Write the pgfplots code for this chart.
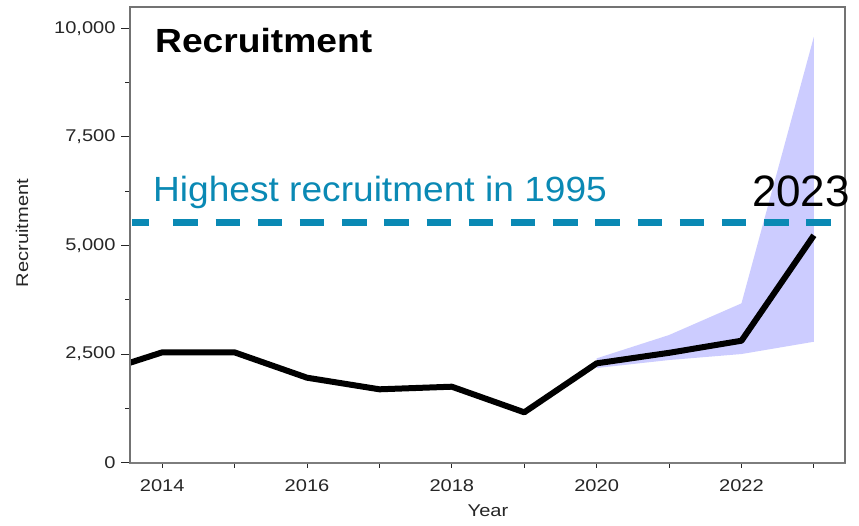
\documentclass[border=0pt]{standalone}
\usepackage{pgfplots}
\pgfplotsset{compat=1.18}
\usepackage{fontspec}
\setmainfont{Liberation Sans}
\newfontfamily\tickfont{Liberation Sans}[FakeStretch=1.18]
\newfontfamily\titlefont{Liberation Sans}[FakeStretch=1.11]
\newfontfamily\hlfont{Liberation Sans}[FakeStretch=1.06]
\definecolor{bandfill}{RGB}{204,204,255}
\definecolor{hiblue}{RGB}{10,137,180}
\definecolor{axgray}{RGB}{125,125,125}
\definecolor{txtgray}{RGB}{38,38,38}

\begin{document}
\begin{tikzpicture}
\useasboundingbox (0,0) rectangle (859pt,525pt);
\begin{axis}[
  at={(130pt,62.3pt)}, anchor=south west,
  scale only axis, width=715pt, height=456pt,
  xmin=2013.555, xmax=2023.43, ymin=0, ymax=10500,
  xtick={2014,2016,2018,2020,2022},
  minor xtick={2015,2017,2019,2021,2023},
  ytick={0,2500,5000,7500,10000},
  minor ytick={1250,3750,6250,8750},
  tick align=outside, tickpos=left,
  major tick length=9pt, minor tick length=5pt,
  xtick style={/pgfplots/major tick length=5pt},
  axis line style={axgray, line width=2pt},
  every tick/.style={txtgray, line width=1pt},
  /pgf/number format/assume math mode=true,
  xticklabel style={/pgf/number format/1000 sep=, yshift=-4pt},
  yticklabel style={/pgf/number format/1000 sep={,}, xshift=-2pt},
  tick label style={font=\tickfont\fontsize{17}{17}\selectfont, text=txtgray},
  scaled y ticks=false,
  clip=false,
]
% uncertainty band
\addplot[fill=bandfill, draw=none] coordinates {
  (2020,2180) (2021,2364) (2022,2502) (2023,2785)
  (2023,9807) (2022,3669) (2021,2940) (2020,2403)
} -- cycle;
% highest recruitment (1995) reference
\addplot[hiblue, line width=7.7pt] coordinates {(2013.583,5534) (2013.813,5534)};
\addplot[hiblue, line width=7.7pt, dash pattern=on 24.5pt off 17.7pt] coordinates {(2014.154,5534) (2023.235,5534)};
% recruitment
\addplot[black, line width=6pt, line join=round] coordinates {
  (2013.555,2302) (2014,2541) (2015,2540) (2016,1957) (2017,1690)
  (2018,1750) (2019,1160) (2020,2288) (2021,2530) (2022,2808) (2023,5235)
};
\end{axis}
% frame
\draw[black!55, line width=2.5pt] (130pt,62.3pt) -- (130pt,518pt) -- (845pt,518pt) -- (845pt,62.3pt);
\node[font=\titlefont\bfseries\fontsize{33.5}{33.5}\selectfont, anchor=base west, inner sep=0pt] at (155pt,472.7pt) {Recruitment};
\node[font=\hlfont\fontsize{35}{35}\selectfont, text=hiblue, anchor=base west, inner sep=0pt] at (153pt,323pt) {Highest recruitment in 1995};
\node[font=\fontsize{44}{44}\selectfont, anchor=base, inner sep=0pt] at (801pt,318.3pt) {2023};
\node[font=\tickfont\fontsize{17}{17}\selectfont, text=txtgray, rotate=90] at (22pt,292pt) {Recruitment};
\node[font=\tickfont\fontsize{17}{17}\selectfont, text=txtgray] at (488pt,14pt) {Year};
\end{tikzpicture}
\end{document}
